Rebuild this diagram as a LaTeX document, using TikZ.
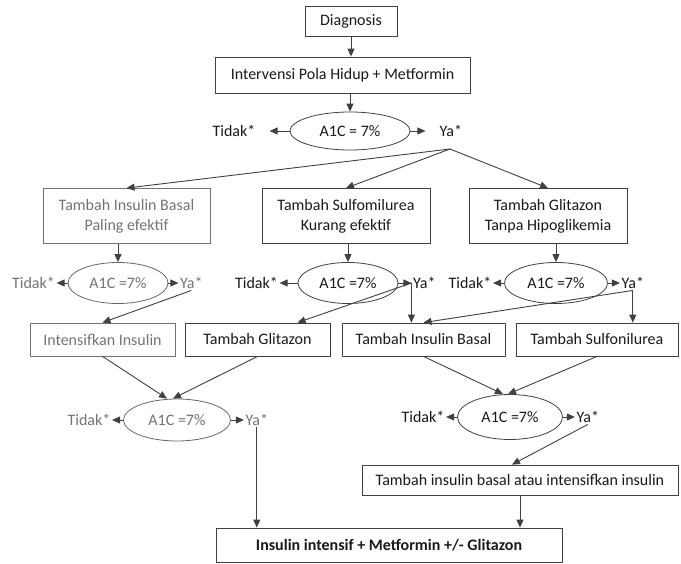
\documentclass[tikz,border=0pt]{standalone}
\usepackage{fontspec}
\setmainfont{Carlito}
\usetikzlibrary{arrows.meta}
\usetikzlibrary{positioning}
\usetikzlibrary{shapes.geometric}

\tikzset{
  box/.style={rectangle, draw=black!75, line width=0.8pt, inner sep=0pt, align=center, text=black!90},
  dimbox/.style={box, draw=black!55, text=black!55},
  check/.style={ellipse, draw=black!75, line width=0.8pt, inner sep=0pt, text=black!90},
  dimcheck/.style={check, draw=black!60, text=black!55},
  lbl/.style={inner sep=1.5pt, text=black!90},
  dimlbl/.style={lbl, text=black!55},
  arr/.style={-{Triangle[length=8pt,width=7pt]}, draw=black!75, line width=0.9pt}
}

\begin{document}
\begin{tikzpicture}[x=1pt,y=-1pt,font=\fontsize{16}{20}\selectfont]
        \useasboundingbox (0,0) rectangle (681,564);

        % Nodes
        \node[box, minimum width=92pt, minimum height=30pt]   (diag)   at (351,21)    {Diagnosis};
        \node[box, minimum width=255pt, minimum height=36pt]  (interv) at (342.5,75)  {Intervensi Pola Hidup + Metformin};
        \node[check, minimum width=120pt, minimum height=38pt] (a1)    at (350,131)   {A1C = 7\%};
        \node[lbl, inner xsep=14pt, left=20pt of a1]  (t1) {Tidak*};
        \node[lbl, inner xsep=14pt, right=15pt of a1] (y1) {Ya*};
        \coordinate (j1) at (450,149);

        \node[dimbox, minimum width=167pt, minimum height=55pt] (b1) at (126.5,216) {Tambah Insulin Basal\\Paling efektif};
        \node[box, minimum width=168pt, minimum height=55pt]    (b2) at (346,216)   {Tambah Sulfomilurea\\Kurang efektif};
        \node[box, minimum width=158pt, minimum height=55pt]    (b3) at (548,216)   {Tambah Glitazon\\Tanpa Hipoglikemia};

        \node[dimcheck, minimum width=100pt, minimum height=41pt] (e2L) at (118,283) {A1C =7\%};
        \node[dimlbl, left=11pt of e2L]  (t2L) {Tidak*};
        \node[dimlbl, right=10pt of e2L] (y2L) {Ya*};

        \node[check, minimum width=100pt, minimum height=41pt] (e2M) at (348,283) {A1C =7\%};
        \node[lbl, left=18pt of e2M]  (t2M) {Tidak*};
        \node[lbl, right=13pt of e2M] (y2M) {Ya*};

        \node[check, minimum width=103pt, minimum height=41pt] (e2R) at (556,283) {A1C =7\%};
        \node[lbl, left=11pt of e2R]  (t2R) {Tidak*};
        \node[lbl, right=12pt of e2R] (y2R) {Ya*};

        \node[dimbox, minimum width=145pt, minimum height=33pt] (c1) at (102.5,339.5) {Intensifkan Insulin};
        \node[box, minimum width=145pt, minimum height=33pt]    (c2) at (257.5,339.5) {Tambah Glitazon};
        \node[box, minimum width=163pt, minimum height=33pt]    (d1) at (423.5,339.5) {Tambah Insulin Basal};
        \node[box, minimum width=162pt, minimum height=33pt]    (e1) at (597,339.5)   {Tambah Sulfonilurea};

        \node[dimcheck, minimum width=107pt, minimum height=42pt] (e4L) at (177,420) {A1C =7\%};
        \node[dimlbl, left=11pt of e4L]  (t4L) {Tidak*};
        \node[dimlbl, right=13pt of e4L] (y4L) {Ya*};

        \node[check, minimum width=105pt, minimum height=45pt] (e4R) at (510,417) {A1C =7\%};
        \node[lbl, left=11pt of e4R]  (t4R) {Tidak*};
        \node[lbl, right=12pt of e4R] (y4R) {Ya*};

        \node[box, minimum width=316pt, minimum height=30pt] (g) at (520,480) {Tambah insulin basal atau intensifkan insulin};
        \node[box, minimum width=346pt, minimum height=34pt, font=\fontsize{16}{20}\selectfont\bfseries] (f) at (389,545) {Insulin intensif + Metformin +/- Glitazon};

        % Edges
        \draw[arr] (diag.south) -- (diag.south |- interv.north);
        \draw[arr] (a1.north |- interv.south) -- (a1.north);
        \draw[arr] (a1) -- (t1);
        \draw[arr] (a1) -- (y1);
        \foreach \b in {b1,b2,b3}
            \draw[arr] (j1) -- (\b.north);

        \draw[arr] (b1.south -| e2L.north) -- (e2L.north);
        \draw[arr] (b2.south -| e2M.north) -- (e2M.north);
        \draw[arr] (b3.south -| e2R.north) -- (e2R.north);
        \foreach \e/\t/\y in {e2L/t2L/y2L, e2M/t2M/y2M, e2R/t2R/y2R, e4L/t4L/y4L, e4R/t4R/y4R} {
            \draw[arr] (\e) -- (\t);
            \draw[arr] (\e) -- (\y);
        }

        \draw[arr] (y2L.south) -- (c1.north);
        \draw[arr] (y2M.west) -- ([xshift=40pt]c2.north);
        \draw[arr] (y2M.west) -- (y2M.west |- d1.north);
        \draw[arr] (y2R.south) -- (d1.north);
        \draw[arr] (y2R.south) -- (y2R.south |- e1.north);

        \draw[arr] (c1.south) -- ([xshift=-10pt]e4L.north);
        \draw[arr] (c2.south) -- ([xshift=-4pt]e4L.north);
        \draw[arr] (d1.south) -- ([xshift=-7pt]e4R.north);
        \draw[arr] (e1.south) -- ([xshift=-2pt]e4R.north);

        \draw[arr] (y4L.south) -- (y4L.south |- f.north);
        \draw[arr] (y4R.south) -- ([xshift=-8pt]g.north);
        \draw[arr] (g.south) -- (g.south |- f.north);
\end{tikzpicture}
\end{document}
